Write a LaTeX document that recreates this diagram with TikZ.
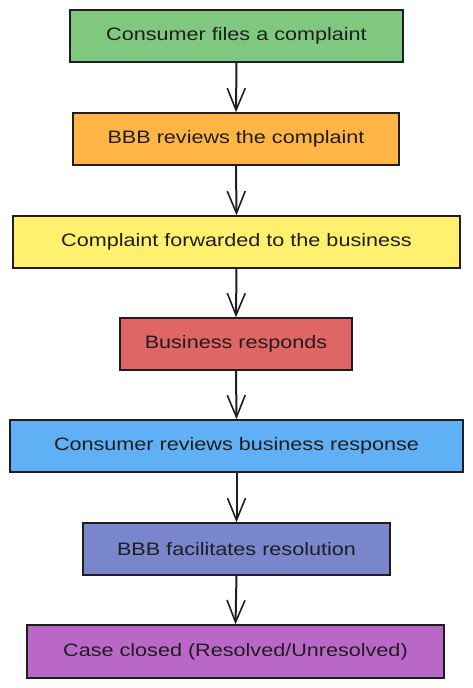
\documentclass[tikz,border=0pt]{standalone}
\usepackage{fontspec}
\setmainfont{Liberation Sans}[FakeStretch=1.2]
\usetikzlibrary{arrows.meta}
\definecolor{cgreen}{RGB}{128,200,128}
\definecolor{corange}{RGB}{255,180,70}
\definecolor{cyellow}{RGB}{255,240,110}
\definecolor{cred}{RGB}{224,102,102}
\definecolor{cblue}{RGB}{96,176,245}
\definecolor{cindigo}{RGB}{121,134,203}
\definecolor{cpurple}{RGB}{186,104,200}
\definecolor{cline}{RGB}{30,30,30}
\tikzset{
  stepbox/.style={draw=cline, line width=1.5pt, inner sep=0pt, minimum height=52pt,
    font=\fontsize{18}{20}\selectfont, text=cline},
  arr/.style={draw=cline, line width=2pt, -{Straight Barb[length=22pt,width=18pt,line width=1.6pt]}}
}
\begin{document}
\begin{tikzpicture}[x=1pt,y=-1pt]
\useasboundingbox (0,0) rectangle (473,688);
\node[stepbox, fill=cgreen,  minimum width=333pt] (n1) at (236.5,36)  {Consumer files a complaint};
\node[stepbox, fill=corange, minimum width=326pt] (n2) at (236,139)   {BBB reviews the complaint};
\node[stepbox, fill=cyellow, minimum width=447pt] (n3) at (236.5,242) {Complaint forwarded to the business};
\node[stepbox, fill=cred,    minimum width=232pt] (n4) at (236,344)   {Business responds};
\node[stepbox, fill=cblue,   minimum width=453pt] (n5) at (236.5,446) {Consumer reviews business response};
\node[stepbox, fill=cindigo, minimum width=307pt] (n6) at (236.5,549) {BBB facilitates resolution};
\node[stepbox, fill=cpurple, minimum width=417pt, minimum height=53pt] (n7) at (235.5,651.5) {Case closed (Resolved/Unresolved)};
\draw[arr] (n1.south) -- (n2.north);
\draw[arr] (n2.south) -- (n3.north);
\draw[arr] (n3.south) -- (n4.north);
\draw[arr] (n4.south) -- (n5.north);
\draw[arr] (n5.south) -- (n6.north);
\draw[arr] (n6.south) -- (n7.north);
\end{tikzpicture}
\end{document}
